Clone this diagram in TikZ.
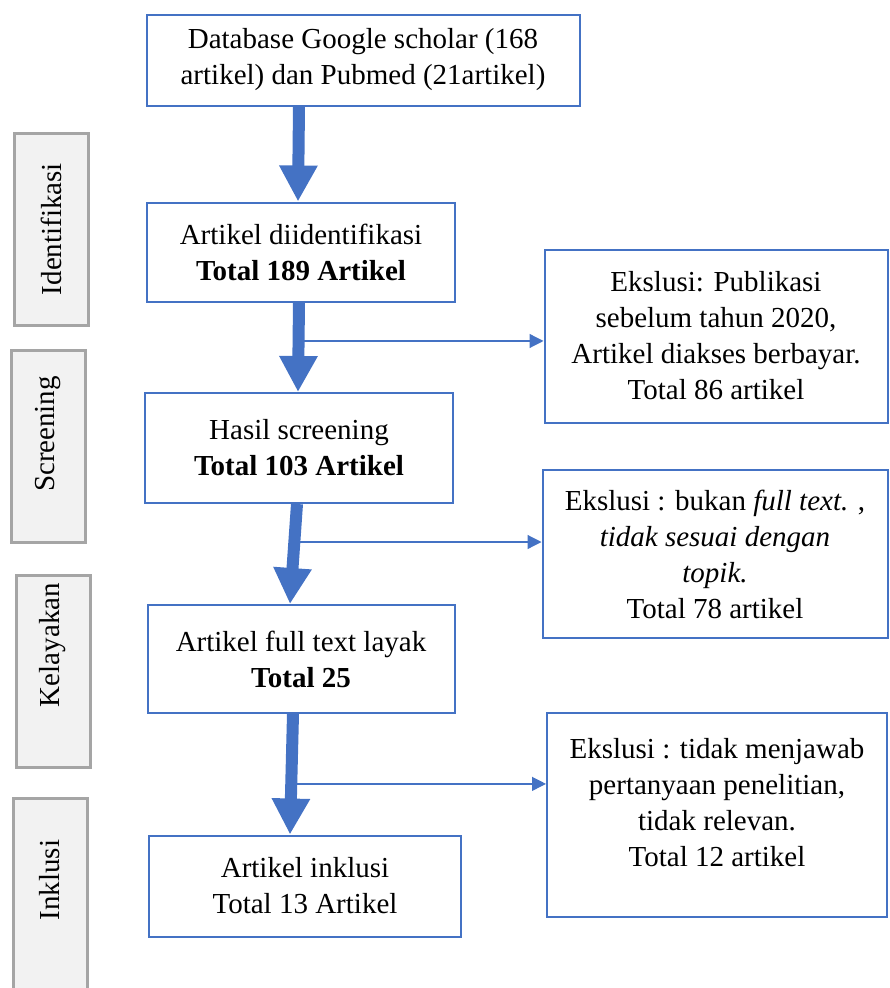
\documentclass[tikz,border=0pt]{standalone}
\usepackage{fontspec}
\setmainfont{Liberation Serif}
\usetikzlibrary{arrows.meta}
\definecolor{flowblue}{HTML}{4472C4}
\definecolor{stagegray}{HTML}{A5A5A5}
\definecolor{stagefill}{HTML}{F2F2F2}
\tikzset{main node/.style={rectangle,draw=flowblue,line width=2pt,align=center,inner sep=0pt,font=\fontsize{29}{36}\selectfont},
}

\begin{document}
\begin{tikzpicture}[x=1pt,y=-1pt,
		stage node/.style={rectangle,draw=stagegray,fill=stagefill,line width=3pt,minimum width=192pt,minimum height=74pt,rotate=90},
		stage text/.style={rotate=90,inner sep=0pt,font=\fontsize{29}{36}\selectfont},
		box text/.style={align=center,inner sep=0pt,font=\fontsize{29}{36}\selectfont},
		big arrow/.style={draw=flowblue,line width=12pt,-{Triangle[length=36pt,width=36pt]}},
		small arrow/.style={draw=flowblue,line width=1.2pt,-{Triangle[length=14pt,width=14pt]}}]
		
		\useasboundingbox (0,0) rectangle (890,988);
		
		% tahapan
		\node[stage node] (sI) at (51,229) {};
		\node[stage node] (sS) at (48,446) {};
		\node[stage node] (sK) at (53,671) {};
		\node[stage node,minimum width=210pt] (sIn) at (50,903) {};
		\node[stage text] (tI) at (51,229) {Identifikasi};
		\node[stage text] (tS) at (48,434) {Screening};
		\node[stage text] (tK) at (53,645) {Kelayakan};
		\node[stage text] (tIn) at (50,880) {Inklusi};
		
		% alur utama
		\node[main node,minimum width=433pt,minimum height=91pt] (db) at (363,60) {Database Google scholar (168\\artikel) dan Pubmed (21artikel)};
		\node[main node,minimum width=308pt,minimum height=99pt] (idn) at (301,252) {Artikel diidentifikasi\\\textbf{Total 189 Artikel}};
		\node[main node,minimum width=308pt,minimum height=110pt] (scr) at (299,448) {Hasil screening\\\textbf{Total 103 Artikel}};
		\node[main node,minimum width=307pt,minimum height=108pt] (lay) at (301,659) {Artikel full text layak\\\textbf{Total 25}};
		\node[main node,minimum width=312pt,minimum height=101pt] (inc) at (305,886) {Artikel inklusi\\Total 13 Artikel};
		
		% eksklusi
		\node[main node,minimum width=343pt,minimum height=173pt] (exA) at (716,336) {Ekslusi: Publikasi\\sebelum tahun 2020,\\Artikel diakses berbayar.\\Total 86 artikel};
		\node[main node,minimum width=345pt,minimum height=168pt] (exB) at (715,554) {Ekslusi : bukan \textit{full text.} ,\\\textit{tidak sesuai dengan}\\\textit{topik.}\\Total 78 artikel};
		\node[main node,minimum width=340pt,minimum height=204pt] (exC) at (717,815) {};
		\node[box text] (exCtxt) at (717,803) {Ekslusi : tidak menjawab\\pertanyaan penelitian,\\tidak relevan.\\Total 12 artikel};
		
		\draw[big arrow] ([xshift=-2pt]idn.north |- db.south) -- ([xshift=-3pt]idn.north);
		\draw[big arrow] ([xshift=-2pt]idn.south) -- coordinate[pos=0.43] (t1) ([xshift=-1pt]scr.north);
		\draw[big arrow] ([xshift=-2pt]scr.south) -- coordinate[pos=0.38] (t2) ([xshift=-11pt]lay.north);
		\draw[big arrow] ([xshift=-8pt]lay.south) -- coordinate[pos=0.58] (t3) ([xshift=-15pt]inc.north);
		
		\draw[small arrow] (t1) -- (t1 -| exA.west);
		\draw[small arrow] (t2) -- (t2 -| exB.west);
		\draw[small arrow] (t3) -- (t3 -| exC.west);
\end{tikzpicture}
\end{document}
